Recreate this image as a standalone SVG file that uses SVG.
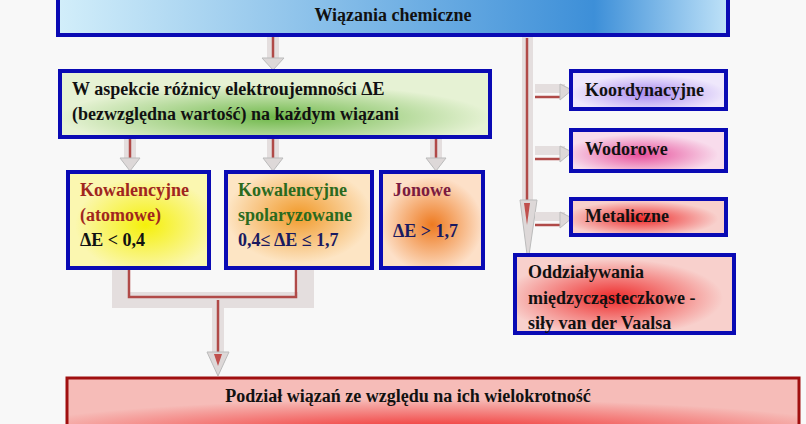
<svg xmlns="http://www.w3.org/2000/svg" width="806" height="424" viewBox="0 0 806 424">
<style>
text{font-family:"Liberation Serif","Times New Roman",serif;font-weight:bold;font-size:18px;fill:#111}
.b{stroke:#0a0ab4;stroke-width:4}
.sh{fill:#e4dede}
.ln{stroke:#b04a48;stroke-width:2.5;fill:none}
.hd{fill:#ddd8d8;stroke:#bbb;stroke-width:1}
</style>
<defs>
<linearGradient id="gTop" x1="0" x2="1"><stop offset="0" stop-color="#d2eefa"/><stop offset="0.8" stop-color="#3d8fd8"/><stop offset="1" stop-color="#bfe2f8"/></linearGradient>
<radialGradient id="gGreen" cx="0.5" cy="0.7" r="0.5"><stop offset="0" stop-color="#6fb84a"/><stop offset="1" stop-color="#e6f2d4"/></radialGradient>
<radialGradient id="gYel" cx="0.55" cy="0.55" r="0.5"><stop offset="0" stop-color="#f5f00a"/><stop offset="1" stop-color="#fbf7b0"/></radialGradient>
<radialGradient id="gOr" cx="0.5" cy="0.45" r="0.5"><stop offset="0" stop-color="#f19a2a"/><stop offset="1" stop-color="#fde5c4"/></radialGradient>
<radialGradient id="gOr2" cx="0.5" cy="0.55" r="0.5"><stop offset="0" stop-color="#ee7a20"/><stop offset="1" stop-color="#fde0c8"/></radialGradient>
<radialGradient id="gPur" cx="0.5" cy="0.6" r="0.5"><stop offset="0" stop-color="#a98af0"/><stop offset="1" stop-color="#efe8fc"/></radialGradient>
<radialGradient id="gPink" cx="0.45" cy="0.6" r="0.5"><stop offset="0" stop-color="#e74e9a"/><stop offset="1" stop-color="#f8dcec"/></radialGradient>
<radialGradient id="gRed" cx="0.45" cy="0.55" r="0.5"><stop offset="0" stop-color="#ee2a2a"/><stop offset="1" stop-color="#f8d0cc"/></radialGradient>
<radialGradient id="gRed2" cx="0.5" cy="0.95" r="0.6"><stop offset="0" stop-color="#f01a1a"/><stop offset="1" stop-color="#f6bcb8"/></radialGradient>
</defs>
<rect width="806" height="424" fill="#f8f8f8"/>
<g id="connectors">
  <g id="a-top"><rect class="sh" x="267" y="35" width="12" height="26"/><line class="ln" x1="273" y1="36" x2="273" y2="60"/><path class="hd" d="M262 58 L273 70 L284 58 Z"/></g>
  <g id="a-k1"><rect class="sh" x="124" y="138" width="12" height="23"/><line class="ln" x1="130" y1="139" x2="130" y2="160"/><path class="hd" d="M120 158 L130 171 L140 158 Z"/></g>
  <g id="a-k2"><rect class="sh" x="267" y="138" width="12" height="23"/><line class="ln" x1="273" y1="139" x2="273" y2="160"/><path class="hd" d="M263 158 L273 171 L283 158 Z"/></g>
  <g id="a-j"><rect class="sh" x="430" y="138" width="12" height="23"/><line class="ln" x1="436" y1="139" x2="436" y2="160"/><path class="hd" d="M426 158 L436 171 L446 158 Z"/></g>
  <g id="a-right"><rect class="sh" x="522" y="35" width="11" height="180"/><line class="ln" x1="527" y1="38" x2="527" y2="225"/><path class="hd" d="M520 200 L528 262 L537 200 Z"/><path d="M524 203 L527 225 L530 203 Z" fill="#c0504d"/></g>
  <g id="a-ko"><rect class="sh" x="535" y="84" width="30" height="9"/><line class="ln" x1="535" y1="97" x2="562" y2="97"/><path class="hd" d="M560 84 L572 90 L560 100 Z"/></g>
  <g id="a-wo"><rect class="sh" x="535" y="146" width="30" height="9"/><line class="ln" x1="535" y1="159" x2="562" y2="159"/><path class="hd" d="M560 146 L572 152 L560 162 Z"/></g>
  <g id="a-me"><rect class="sh" x="535" y="212" width="30" height="9"/><line class="ln" x1="535" y1="225" x2="562" y2="225"/><path class="hd" d="M560 212 L572 218 L560 228 Z"/></g>
  <g id="a-bottom">
    <path d="M120 268 V300 H306 V268" fill="none" stroke="#e4dede" stroke-width="16"/>
    <path d="M129 270 V297 H296 V270" class="ln" stroke-width="6"/>
    <rect class="sh" x="212" y="300" width="12" height="60"/><line class="ln" x1="218" y1="300" x2="218" y2="360"/>
    <path class="hd" d="M207 352 L218 376 L229 352 Z"/><path d="M214 354 L218 366 L222 354 Z" fill="#c0504d"/>
  </g>
</g>

<g id="n-top"><rect class="b" x="58" y="-6" width="670" height="41" fill="url(#gTop)"/><text x="393" y="21" text-anchor="middle" font-size="19">Wiązania chemiczne</text></g>
<g id="n-green" font-size="17.3"><rect class="b" x="60" y="71" width="430" height="66" fill="url(#gGreen)"/>
<text x="72" y="95" font-size="17.3">W aspekcie różnicy elektroujemności ΔE</text><text x="72" y="120" font-size="17.3">(bezwzględna wartość) na każdym wiązani</text></g>
<g id="n-kow"><rect class="b" x="68" y="172" width="141" height="96" fill="url(#gYel)"/>
<text x="80" y="196" style="fill:#a0261e">Kowalencyjne</text><text x="80" y="221" style="fill:#a0261e">(atomowe)</text><text x="80" y="246">ΔE &lt; 0,4</text></g>
<g id="n-spol"><rect class="b" x="226" y="172" width="146" height="96" fill="url(#gOr)"/>
<text x="238" y="196" style="fill:#2a6a1e">Kowalencyjne</text><text x="238" y="221" style="fill:#2a6a1e">spolaryzowane</text><text x="238" y="246" style="fill:#1a1a60">0,4≤ ΔE ≤ 1,7</text></g>
<g id="n-jon"><rect class="b" x="381" y="172" width="102" height="96" fill="url(#gOr2)"/>
<text x="393" y="196" style="fill:#7a1a40">Jonowe</text><text x="393" y="237" style="fill:#1a1a60">ΔE &gt; 1,7</text></g>
<g id="n-koor"><rect class="b" x="571" y="71" width="155" height="38" fill="url(#gPur)"/><text x="585" y="96">Koordynacyjne</text></g>
<g id="n-wod"><rect class="b" x="571" y="130" width="155" height="41" fill="url(#gPink)"/><text x="585" y="155">Wodorowe</text></g>
<g id="n-met"><rect class="b" x="571" y="199" width="155" height="36" fill="url(#gRed)"/><text x="585" y="222">Metaliczne</text></g>
<g id="n-odd"><rect class="b" x="515" y="255" width="219" height="78" fill="url(#gRed)"/>
<text x="528" y="278">Oddziaływania</text><text x="528" y="304">międzycząsteczkowe -</text><text x="528" y="329">siły van der Vaalsa</text></g>
<g id="n-bottom"><rect x="67" y="378" width="732" height="60" fill="url(#gRed2)" stroke="#a01010" stroke-width="3"/>
<text x="408" y="402" text-anchor="middle" font-size="19">Podział wiązań ze względu na ich wielokrotność</text></g>
</svg>
